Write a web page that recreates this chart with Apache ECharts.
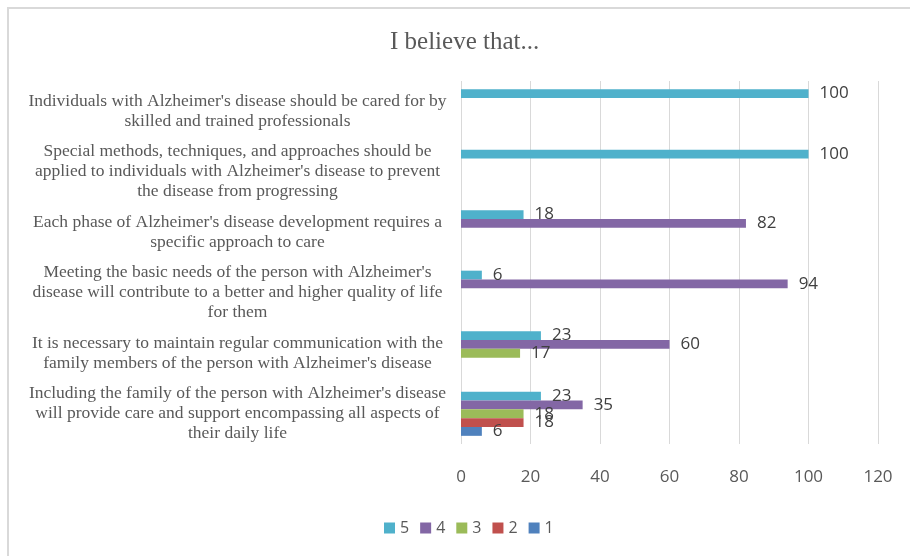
<!DOCTYPE html>
<html>
<head>
<meta charset="utf-8">
<script src="https://cdn.jsdelivr.net/npm/echarts@6/dist/echarts.min.js"></script>
<style>
  html, body { margin: 0; padding: 0; background: #fff; overflow: hidden; }
  #chart { position: absolute; left: 0; top: 0; width: 910px; height: 556px; }
  #frame {
    position: absolute; left: 7px; top: 7px; width: 960px; height: 600px;
    border: 2px solid #d9d9d9; pointer-events: none;
  }
</style>
</head>
<body>
<div id="chart"></div>
<div id="frame"></div>
<script>
// statements, top to bottom
const categories = [
  "Individuals with Alzheimer's disease should be cared for by\nskilled and trained professionals",
  "Special methods, techniques, and approaches should be\napplied to individuals with Alzheimer's disease to prevent\nthe disease from progressing",
  "Each phase of Alzheimer's disease development requires a\nspecific approach to care",
  "Meeting the basic needs of the person with Alzheimer's\ndisease will contribute to a better and higher quality of life\nfor them",
  "It is necessary to maintain regular communication with the\nfamily members of the person with Alzheimer's disease",
  "Including the family of the person with Alzheimer's disease\nwill provide care and support encompassing all aspects of\ntheir daily life",
];

const seriesNames = ["5", "4", "3", "2", "1"];
const values5 = [100, 100, 18, 6, 23, 23];
const values4 = [0, 0, 82, 94, 60, 35];
const values3 = [0, 0, 0, 0, 17, 18];
const values2 = [0, 0, 0, 0, 0, 18];
const values1 = [0, 0, 0, 0, 0, 6];
const xTicks = [0, 20, 40, 60, 80, 100, 120];

const COLORS = ["#4fb1cb", "#8367a5", "#9bbb59", "#c0504d", "#4f81bd"];

const chart = echarts.init(document.getElementById("chart"));

const series = [values5, values4, values3, values2, values1].map((data, i) => ({
  name: seriesNames[i],
  type: "bar",
  data,
  barGap: 0,
  barCategoryGap: "27%",
  itemStyle: { color: COLORS[i] },
  label: {
    show: true,
    position: "right",
    distance: 11,
    color: "#404040",
    fontFamily: "Open Sans",
    fontSize: 17,
    formatter: ({ value }) => (value > 0 ? String(value) : ""),
  },
}));

chart.setOption({
  animation: false,
  color: COLORS,
  title: {
    text: "I believe that...",
    left: 385,
    top: 25,
    textStyle: {
      fontFamily: "Liberation Serif",
      fontWeight: "normal",
      fontSize: 25,
      color: "#595959",
    },
  },
  legend: {
    bottom: 15,
    left: 379,
    icon: "rect",
    itemWidth: 11,
    itemHeight: 11,
    itemGap: 11,
    textStyle: { fontFamily: "Open Sans", fontSize: 16, color: "#595959" },
    data: seriesNames,
  },
  grid: { left: 461, right: 32, top: 81, bottom: 112, containLabel: false },
  xAxis: {
    type: "value",
    min: xTicks[0],
    max: xTicks[xTicks.length - 1],
    interval: 20,
    axisLine: { show: false },
    axisTick: { show: false },
    splitLine: { lineStyle: { color: "#d9d9d9", width: 1 } },
    axisLabel: { color: "#595959", fontFamily: "Open Sans", fontSize: 17, margin: 25 },
  },
  yAxis: {
    type: "category",
    inverse: true,
    data: categories,
    axisLine: { show: false },
    axisTick: { show: false },
    axisLabel: {
      margin: 16,
      formatter: (v) => v.split("\n").map((l) => "{a|" + l + "}").join("\n"),
      rich: {
        a: {
          width: 415,
          align: "center",
          fontFamily: "Liberation Serif",
          fontSize: 17.5,
          lineHeight: 20,
          color: "#595959",
        },
      },
    },
  },
  series,
});
</script>
</body>
</html>
